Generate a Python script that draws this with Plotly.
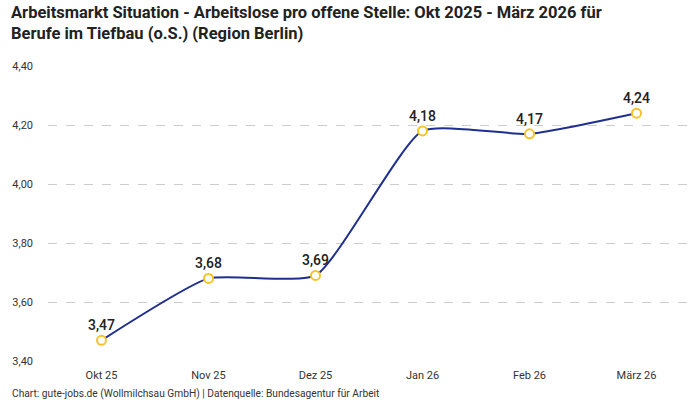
import plotly.graph_objects as go

monate = ['Okt 25', 'Nov 25', 'Dez 25', 'Jan 26', 'Feb 26', 'März 26']
arbeitslose_pro_stelle = [3.47, 3.68, 3.69, 4.18, 4.17, 4.24]
y_ticks = [3.4, 3.6, 3.8, 4.0, 4.2, 4.4]

titel = ('Arbeitsmarkt Situation - Arbeitslose pro offene Stelle: Okt 2025 - März 2026 für<br>'
         'Berufe im Tiefbau (o.S.) (Region Berlin)')
quelle = 'Chart: gute-jobs.de (Wollmilchsau GmbH) | Datenquelle: Bundesagentur für Arbeit'

fig = go.Figure(
    go.Scatter(
        x=monate,
        y=arbeitslose_pro_stelle,
        mode='lines+markers+text',
        line={'color': '#1f2f8f', 'width': 2, 'shape': 'spline', 'smoothing': 0.5},
        marker={'size': 9, 'color': 'white', 'line': {'color': '#f7c325', 'width': 2}},
        text=[f'{v:.2f}'.replace('.', ',') for v in arbeitslose_pro_stelle],
        textposition='top center',
        textfont={'size': 14, 'color': '#222222', 'family': 'Roboto Medium, Roboto'},
        cliponaxis=False,
        hoverinfo='skip',
    )
)

fig.update_layout(
    width=700,
    height=400,
    margin={'l': 48, 'r': 10, 't': 66, 'b': 39},
    paper_bgcolor='white',
    plot_bgcolor='white',
    separators=',.',
    showlegend=False,
    font={'family': 'Roboto, Noto Sans, sans-serif', 'color': '#333333', 'size': 11},
    annotations=[
        {
            'text': f'<b>{titel}</b>',
            'xref': 'paper', 'yref': 'paper',
            'x': -0.061, 'y': 1.222,
            'xanchor': 'left', 'yanchor': 'top',
            'align': 'left',
            'showarrow': False,
            'font': {'size': 16.5, 'color': '#222222'},
        },
        {
            'text': quelle,
            'xref': 'paper', 'yref': 'paper',
            'x': -0.059, 'y': -0.085,
            'xanchor': 'left', 'yanchor': 'top',
            'showarrow': False,
            'font': {'size': 10.2, 'color': '#333333'},
        },
    ],
)

fig.update_xaxes(
    range=[-0.5, 5.5],
    showgrid=False,
    showline=False,
    zeroline=False,
    ticks='',
    automargin=False,
    ticklabelstandoff=6,
    tickfont={'size': 11, 'color': '#333333'},
)

fig.update_yaxes(
    range=[3.4, 4.4],
    tickvals=y_ticks,
    tickformat='.2f',
    showgrid=True,
    gridcolor='#cccccc',
    griddash='dash',
    gridwidth=1,
    zeroline=False,
    showline=False,
    ticks='',
    automargin=False,
    ticklabelstandoff=14,
    tickfont={'size': 11, 'color': '#333333'},
)

fig.write_html(
    'out.html',
    config={'displayModeBar': False},
    post_script="document.body.style.margin = '0px';",
)
